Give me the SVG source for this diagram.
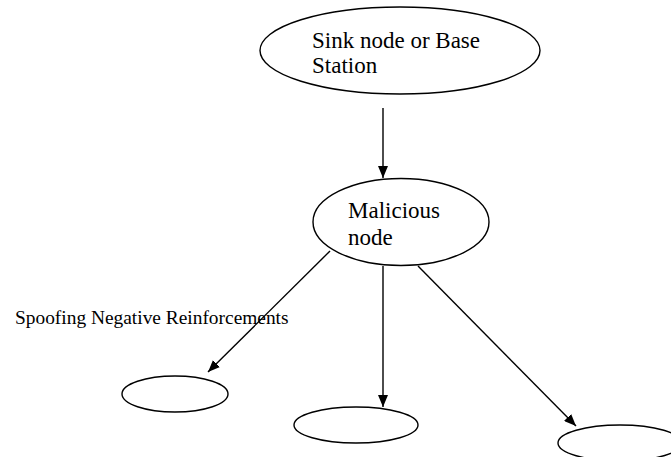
<svg xmlns="http://www.w3.org/2000/svg" width="671" height="457" viewBox="0 0 671 457">
<style>
.n{fill:#fff;stroke:#000;stroke-width:1.4}
.t{font-family:"Liberation Serif","Times New Roman",serif;font-size:23px;fill:#000}
.s{font-family:"Liberation Serif","Times New Roman",serif;font-size:19.4px;fill:#000}
.c{stroke:#000;stroke-width:1.4;fill:none;marker-end:url(#ah)}
</style>
<defs>
<marker id="ah" viewBox="0 0 12 10" refX="12" refY="5" markerWidth="12" markerHeight="10" markerUnits="userSpaceOnUse" orient="auto">
<path d="M0,0 L12,5 L0,10 Z" fill="#000"/>
</marker>
</defs>
<rect width="671" height="457" fill="#fff"/>
<g id="connectors">
<line class="c" x1="383" y1="108" x2="383" y2="178"/>
<line class="c" x1="330" y1="251" x2="208" y2="372"/>
<line class="c" x1="383" y1="266" x2="383" y2="407"/>
<line class="c" x1="418" y1="266" x2="576" y2="426"/>
</g>
<g id="sink">
<ellipse class="n" cx="400" cy="50.5" rx="140" ry="43.5"/>
<text class="t" x="312" y="48">Sink node or Base</text>
<text class="t" x="312" y="73">Station</text>
</g>
<g id="malicious">
<ellipse class="n" cx="401" cy="222" rx="88" ry="43.5"/>
<text class="t" x="348" y="218">Malicious</text>
<text class="t" x="348" y="245">node</text>
</g>
<g id="node-left">
<ellipse class="n" cx="175" cy="394" rx="53" ry="18"/>
</g>
<g id="node-middle">
<ellipse class="n" cx="356" cy="425" rx="62" ry="18"/>
</g>
<g id="node-right">
<ellipse class="n" cx="620" cy="443" rx="62" ry="18"/>
</g>
<g id="label">
<text class="s" x="15" y="324">Spoofing Negative Reinforcements</text>
</g>
</svg>
